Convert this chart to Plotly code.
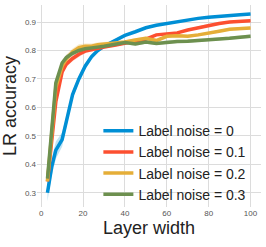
import plotly.graph_objects as go

widths = [3, 5, 7, 10, 12, 15, 18, 21, 24, 27, 30, 35, 40, 45, 50, 55, 60, 65, 70, 75, 80, 85, 90, 95, 100]

acc_noise_0 = [0.300, 0.390, 0.450, 0.487, 0.550, 0.645, 0.700, 0.745, 0.778, 0.800, 0.815, 0.835, 0.853,
               0.866, 0.880, 0.889, 0.895, 0.903, 0.908, 0.913, 0.917, 0.921, 0.924, 0.926, 0.928]
acc_noise_01 = [0.340, 0.480, 0.620, 0.725, 0.752, 0.772, 0.787, 0.798, 0.803, 0.808, 0.812, 0.818, 0.825,
                0.833, 0.840, 0.855, 0.858, 0.862, 0.872, 0.880, 0.890, 0.895, 0.900, 0.903, 0.905]
acc_noise_02 = [0.340, 0.500, 0.670, 0.745, 0.770, 0.795, 0.810, 0.815, 0.815, 0.820, 0.822, 0.825, 0.830,
                0.837, 0.843, 0.835, 0.850, 0.852, 0.850, 0.855, 0.860, 0.868, 0.875, 0.878, 0.879]
acc_noise_03 = [0.350, 0.520, 0.686, 0.756, 0.775, 0.790, 0.800, 0.806, 0.808, 0.812, 0.815, 0.820, 0.828,
                0.823, 0.830, 0.825, 0.830, 0.832, 0.833, 0.835, 0.837, 0.840, 0.843, 0.847, 0.850]

std_noise_0 = [0.030, 0.030, 0.030, 0.025, 0.020, 0.015, 0.012, 0.010, 0.010, 0.008, 0.006, 0.005, 0.004,
               0.004, 0.003, 0.003, 0.003, 0.003, 0.003, 0.003, 0.003, 0.003, 0.003, 0.003, 0.003]
std_noise_01 = [0.015, 0.020, 0.015, 0.012, 0.010, 0.010, 0.010, 0.008, 0.008, 0.006, 0.006, 0.005, 0.005,
                0.005, 0.004, 0.004, 0.004, 0.004, 0.004, 0.004, 0.004, 0.004, 0.004, 0.004, 0.004]
std_noise_02 = [0.012, 0.020, 0.015, 0.012, 0.015, 0.012, 0.012, 0.010, 0.010, 0.008, 0.008, 0.006, 0.006,
                0.006, 0.006, 0.006, 0.006, 0.005, 0.005, 0.005, 0.005, 0.005, 0.005, 0.005, 0.005]
std_noise_03 = [0.012, 0.015, 0.012, 0.010, 0.010, 0.008, 0.008, 0.008, 0.008, 0.006, 0.006, 0.006, 0.006,
                0.006, 0.006, 0.006, 0.006, 0.006, 0.006, 0.006, 0.006, 0.006, 0.006, 0.006, 0.006]

labels = ["Label noise = 0", "Label noise = 0.1", "Label noise = 0.2", "Label noise = 0.3"]
colors = ["#008fd5", "#fc4f30", "#e5ae38", "#6d904f"]
fills = ["rgba(0,143,213,0.25)", "rgba(252,79,48,0.25)", "rgba(229,174,56,0.25)", "rgba(109,144,79,0.25)"]
series = [acc_noise_0, acc_noise_01, acc_noise_02, acc_noise_03]
stds = [std_noise_0, std_noise_01, std_noise_02, std_noise_03]

fig = go.Figure()
for lab, col, fc, ys, sd in zip(labels, colors, fills, series, stds):
    upper = [y + s for y, s in zip(ys, sd)]
    lower = [y - s for y, s in zip(ys, sd)]
    fig.add_trace(go.Scatter(x=widths + widths[::-1], y=upper + lower[::-1], fill="toself",
                             fillcolor=fc, line=dict(width=0), mode="lines",
                             showlegend=False, hoverinfo="skip"))
for lab, col, ys in zip(labels, colors, series):
    fig.add_trace(go.Scatter(x=widths, y=ys, mode="lines", name=lab,
                             line=dict(color=col, width=3.5)))

fig.update_layout(
    width=266, height=247,
    margin=dict(l=37, r=5, t=5, b=40),
    paper_bgcolor="white", plot_bgcolor="white",
    font=dict(family="Liberation Sans, Arial, sans-serif", color="#222"),
    legend=dict(x=0.274, y=0.455, xanchor="left", yanchor="top", bgcolor="rgba(0,0,0,0)",
                font=dict(size=14, color="#222"), tracegroupgap=0, itemwidth=30),
    xaxis=dict(range=[-2, 105], tickvals=[0, 20, 40, 60, 80, 100], showgrid=True,
               gridcolor="#dcdcdc", gridwidth=1.2, zeroline=False, showline=False,
               tickfont=dict(size=8, color="#555"), ticks="", automargin=False,
               title=dict(text="Layer width", font=dict(size=18, color="#222"), standoff=4)),
    yaxis=dict(range=[0.25, 0.96], tickvals=[0.3, 0.4, 0.5, 0.6, 0.7, 0.8, 0.9], showgrid=True,
               gridcolor="#dcdcdc", gridwidth=1.2, zeroline=False, showline=False,
               tickfont=dict(size=8, color="#555"), ticks="", tickformat=".1f", automargin=False,
               title=dict(text="LR accuracy", font=dict(size=18, color="#222"), standoff=4)),
)

fig.write_html("out.html", config={"displayModeBar": False},
               post_script="document.body.style.margin='0px';")
